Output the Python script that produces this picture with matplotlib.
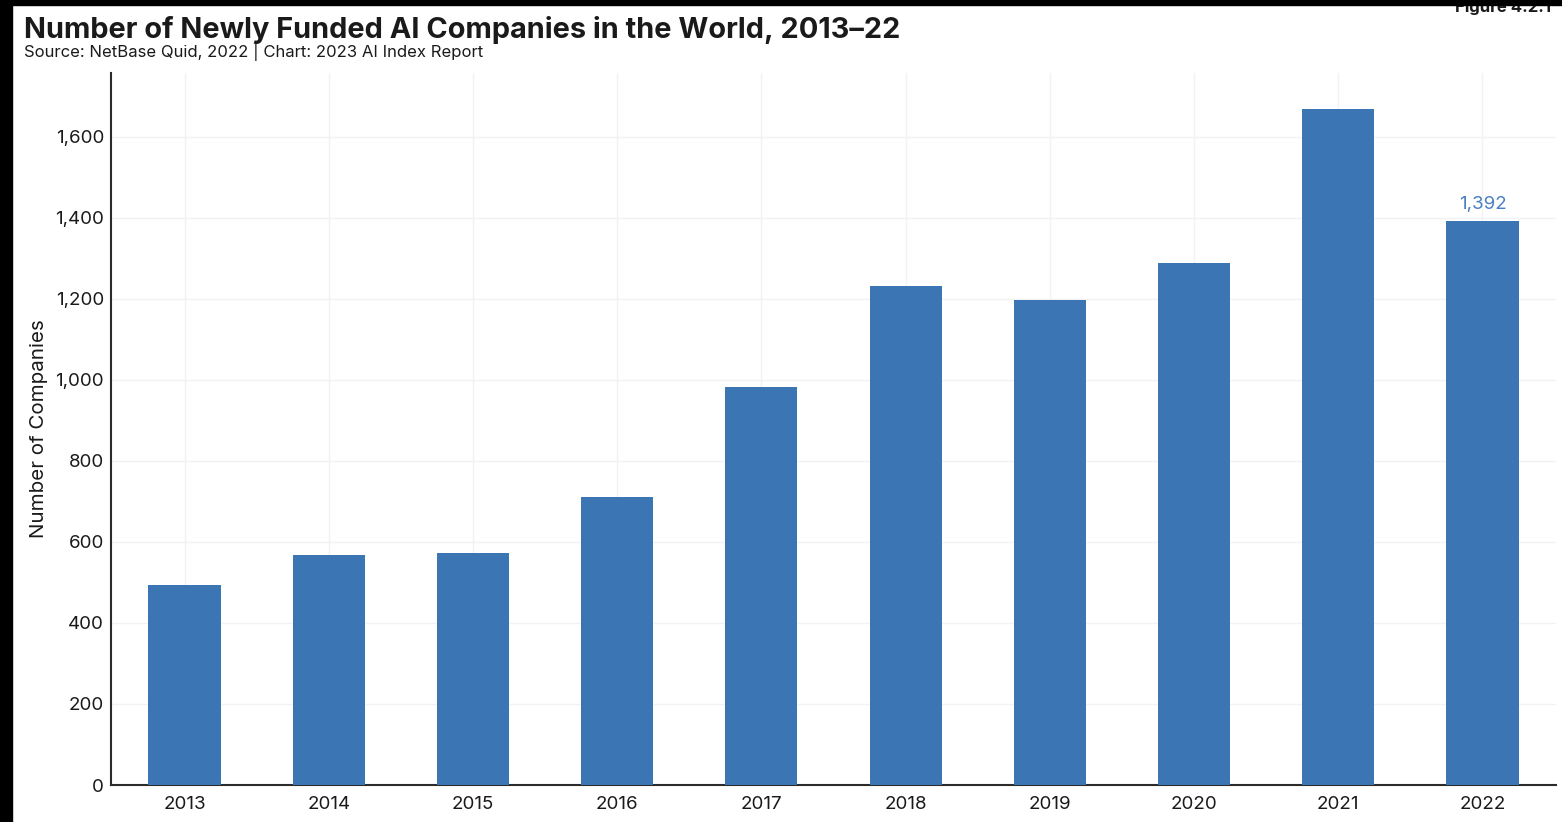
import numpy as np
import matplotlib
matplotlib.use("Agg")
from matplotlib import pyplot as plt
from matplotlib.patches import Rectangle
from matplotlib.ticker import FuncFormatter

# data
years = ["2013", "2014", "2015", "2016", "2017", "2018", "2019", "2020", "2021", "2022"]
companies = [494, 568, 573, 711, 983, 1232, 1198, 1289, 1669, 1392]
labelled = {"2022": 1392}

BAR_COLOR = "#3b75b4"
LABEL_COLOR = "#4a80c2"
TEXT_COLOR = "#1a1a1a"

plt.rcParams['font.family'] = ['Inter', 'DejaVu Sans']

fig = plt.figure(figsize=(15.62, 8.22), dpi=100)
W, H = 1562, 822
ax = fig.add_axes([111 / W, 1 - 785 / H, (1556 - 111) / W, (785 - 73) / H])

x = np.arange(len(years))
ax.bar(x, companies, width=0.5, color=BAR_COLOR, zorder=3)
for i, (yr, v) in enumerate(zip(years, companies)):
    if yr in labelled:
        ax.text(i, v + 20, f"{v:,}", ha="center", va="bottom",
                fontsize=13.5, color=LABEL_COLOR)

ax.set_xlim(-0.51, len(years) - 0.49)
ax.set_ylim(0, 1757)
ax.set_xticks(x)
ax.set_xticklabels(years)
ax.set_yticks(np.arange(0, 1601, 200))
ax.yaxis.set_major_formatter(FuncFormatter(lambda v, p: f"{int(v):,}"))
ax.tick_params(length=0, labelsize=13.5, colors=TEXT_COLOR)
ax.tick_params(axis="y", pad=5)
ax.tick_params(axis="x", pad=8)

ax.grid(True, color="#f2f2f2", linewidth=1.0, zorder=0)
for s in ["top", "right"]:
    ax.spines[s].set_visible(False)
for s in ["left", "bottom"]:
    ax.spines[s].set_color("#2b2b2b")
    ax.spines[s].set_linewidth(1.5)

ax.set_ylabel("Number of Companies", fontsize=14.8, color=TEXT_COLOR, labelpad=5)

fig.text(24 / W, 1 - 38 / H, "Number of Newly Funded AI Companies in the World, 2013\u201322",
         fontsize=20.8, fontweight="bold", color=TEXT_COLOR, ha="left", va="baseline")
fig.text(24 / W, 1 - 57 / H, "Source: NetBase Quid, 2022 | Chart: 2023 AI Index Report",
         fontsize=12, color=TEXT_COLOR, ha="left", va="baseline")
fig.text(1455 / W, 1 - 12 / H, "Figure 4.2.1", fontsize=12, fontweight="bold",
         color=TEXT_COLOR, ha="left", va="baseline")

# dark frame edges from the screenshot
fig.patches.append(Rectangle((0, 1 - 5 / H), 1, 5 / H, transform=fig.transFigure,
                             color="black", zorder=10))
fig.patches.append(Rectangle((0, 0), 12 / W, 1, transform=fig.transFigure,
                             color="black", zorder=10))

fig.savefig("out.png", dpi=100)
